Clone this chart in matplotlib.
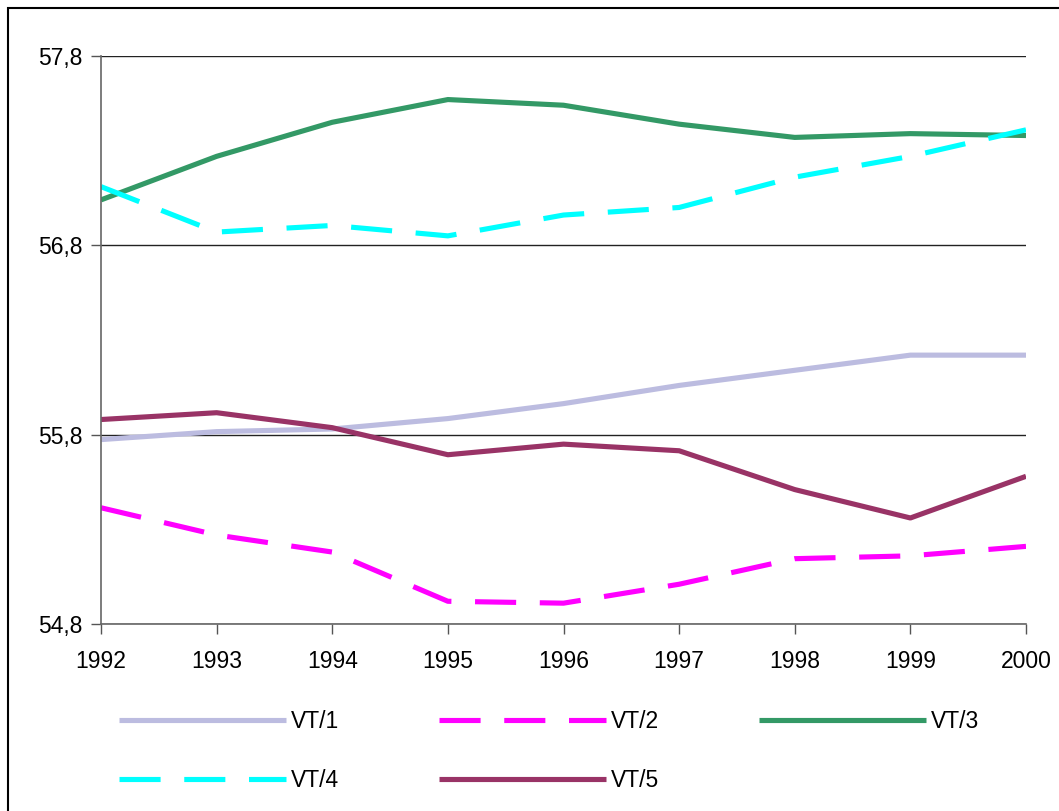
import matplotlib
matplotlib.use('Agg')
import matplotlib.pyplot as plt
from matplotlib.patches import Rectangle

years = [1992, 1993, 1994, 1995, 1996, 1997, 1998, 1999, 2000]
vt1 = [55.774, 55.816, 55.830, 55.885, 55.964, 56.060, 56.140, 56.220, 56.220]
vt2 = [55.414, 55.270, 55.180, 54.920, 54.910, 55.010, 55.145, 55.160, 55.210]
vt3 = [57.040, 57.270, 57.450, 57.570, 57.540, 57.440, 57.370, 57.390, 57.380]
vt4 = [57.110, 56.870, 56.905, 56.850, 56.960, 57.000, 57.160, 57.270, 57.410]
vt5 = [55.880, 55.916, 55.837, 55.694, 55.750, 55.715, 55.510, 55.360, 55.580]
yticks = [54.8, 55.8, 56.8, 57.8]
ytick_labels = ['54,8', '55,8', '56,8', '57,8']

plt.rcParams['font.family'] = ['Liberation Sans', 'DejaVu Sans']

fig = plt.figure(figsize=(10.59, 8.11), dpi=100)
ax = fig.add_axes([101 / 1059, 1 - 624 / 811, 925 / 1059, 568 / 811])

lw = 3.7
dash = (8, 4.6)
l1, = ax.plot(years, vt1, color='#bcbce0', lw=lw, label='VT/1', solid_capstyle='butt')
l2, = ax.plot(years, vt2, color='#ff00ff', lw=lw, label='VT/2', dashes=dash, dash_capstyle='butt')
l3, = ax.plot(years, vt3, color='#339966', lw=lw, label='VT/3', solid_capstyle='butt')
l4, = ax.plot(years, vt4, color='#00ffff', lw=lw, label='VT/4', dashes=dash, dash_capstyle='butt')
l5, = ax.plot(years, vt5, color='#993366', lw=lw, label='VT/5', solid_capstyle='butt')

ax.set_xlim(years[0], years[-1])
ax.set_ylim(yticks[0], yticks[-1])
ax.set_xticks(years)
ax.set_xticklabels([str(y) for y in years], fontsize=16.5)
ax.set_yticks(yticks)
ax.set_yticklabels(ytick_labels, fontsize=16.5)
ax.tick_params(axis='both', direction='out', length=7, width=1, color='#555555')
ax.tick_params(axis='x', pad=12)
ax.tick_params(axis='y', pad=6)
ax.yaxis.grid(True, color='#222222', lw=1)
ax.set_axisbelow(True)
for side in ['top', 'right']:
    ax.spines[side].set_visible(False)
for side in ['left', 'bottom']:
    ax.spines[side].set_color('#666666')
    ax.spines[side].set_linewidth(1.2)

handles = [l1, l4, l2, l5, l3]
fig.legend(handles, [h.get_label() for h in handles], ncol=3, frameon=False,
           loc='center left', bbox_to_anchor=(119 / 1059, 1 - 751 / 811),
           fontsize=16.5, handlelength=7.3, handletextpad=0.2, columnspacing=4.35,
           labelspacing=1.55, borderpad=0, borderaxespad=0)

fig.patches.append(Rectangle((8 / 1059, -0.1), 1.2, 1.1 - 8 / 811,
                             transform=fig.transFigure, fill=False,
                             edgecolor='black', lw=1.5))

fig.savefig('out.png', dpi=100)
